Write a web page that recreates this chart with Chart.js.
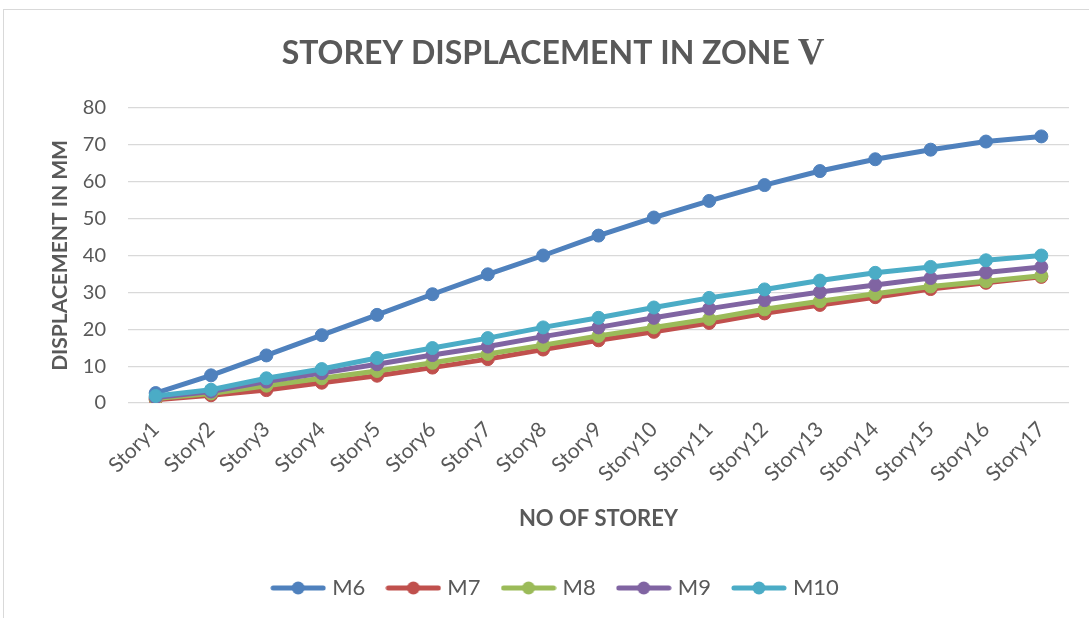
<!DOCTYPE html>
<html>
<head>
<meta charset="utf-8">
<script src="https://cdn.jsdelivr.net/npm/chart.js@4.4.0/dist/chart.umd.min.js"></script>
<style>
  html, body { margin: 0; padding: 0; width: 1089px; height: 618px; overflow: hidden; background: #fff; }
  #frame { position: absolute; left: 3px; top: 9px; width: 1200px; height: 700px; border-left: 1px solid #d9d9d9; border-top: 1px solid #d9d9d9; }
  #wrap { position: absolute; left: 0; top: 0; width: 1110px; height: 609px; }
</style>
</head>
<body>
<div id="frame"></div>
<div id="wrap"><canvas id="chart" width="1110" height="609"></canvas></div>
<script>
const stories = ['Story1', 'Story2', 'Story3', 'Story4', 'Story5', 'Story6', 'Story7', 'Story8', 'Story9',
    'Story10', 'Story11', 'Story12', 'Story13', 'Story14', 'Story15', 'Story16', 'Story17'];
const seriesNames = ['M6', 'M7', 'M8', 'M9', 'M10'];
const m6 = [2.7, 7.5, 12.9, 18.4, 23.9, 29.5, 34.9, 40.0, 45.4, 50.3, 54.8, 59.1, 62.9, 66.1, 68.7, 70.9, 72.3];
const m7 = [0.9, 2.1, 3.5, 5.5, 7.4, 9.6, 11.9, 14.5, 17.0, 19.3, 21.7, 24.3, 26.6, 28.7, 30.9, 32.6, 34.2];
const m8 = [1.2, 2.6, 4.7, 6.7, 8.7, 10.9, 13.3, 15.7, 18.2, 20.5, 22.8, 25.4, 27.6, 29.6, 31.6, 33.0, 34.5];
const m9 = [1.5, 3.1, 5.8, 8.1, 10.5, 13.0, 15.3, 18.0, 20.5, 23.1, 25.6, 27.9, 30.1, 32.0, 33.9, 35.4, 36.9];
const m10 = [1.9, 3.6, 6.7, 9.2, 12.2, 14.9, 17.6, 20.5, 23.1, 25.9, 28.5, 30.8, 33.2, 35.3, 36.9, 38.7, 40.0];
const yTicks = [0, 10, 20, 30, 40, 50, 60, 70, 80];
const colors = ['#4f81bd', '#c0504d', '#9bbb59', '#8064a2', '#4bacc6'];

const textGray = '#595959';
const fontName = 'Lato';

// legend marker: short line with a dot in the middle, like Excel
function legendMarker(color) {
    let c = document.createElement('canvas');
    c.width = 56;
    c.height = 16;
    let g = c.getContext('2d');
    g.strokeStyle = color;
    g.lineWidth = 5;
    g.lineCap = 'round';
    g.beginPath();
    g.moveTo(3, 8);
    g.lineTo(53, 8);
    g.stroke();
    g.fillStyle = color;
    g.beginPath();
    g.arc(28, 8, 6.5, 0, Math.PI * 2);
    g.fill();
    return c;
}
const markers = colors.map(legendMarker);

// title with the roman "V" in a serif face
const titlePlugin = {
    id: 'mixedTitle',
    afterDraw(chart) {
        let ctx = chart.ctx;
        let part1 = 'STOREY DISPLACEMENT IN ZONE ';
        let part2 = 'V';
        let f1 = 'bold 32px ' + fontName;
        let f2 = 'bold 37px "Liberation Serif"';
        ctx.save();
        ctx.fillStyle = textGray;
        ctx.textBaseline = 'alphabetic';
        ctx.font = f1;
        let w1 = ctx.measureText(part1).width;
        ctx.font = f2;
        let w2 = ctx.measureText(part2).width;
        let x = 553 - (w1 + w2) / 2;
        ctx.font = f1;
        ctx.fillText(part1, x, 64);
        ctx.font = f2;
        ctx.fillText(part2, x + w1, 64);
        ctx.restore();
    }
};

const datasets = [m6, m7, m8, m9, m10].map(function(vals, i) {
    return {
        label: seriesNames[i],
        data: vals,
        borderColor: colors[i],
        backgroundColor: colors[i],
        pointBackgroundColor: colors[i],
        pointBorderColor: colors[i],
        borderWidth: 5,
        pointRadius: 6.5,
        pointHoverRadius: 6.5,
        pointBorderWidth: 1,
        tension: 0,
        order: 5 - i,
        pointStyle: 'circle'
    };
});

let ctx = document.getElementById('chart').getContext('2d');
let lineChart = new Chart(ctx, {
    type: 'line',
    data: {
        labels: stories,
        datasets: datasets
    },
    options: {
        responsive: false,
        maintainAspectRatio: false,
        animation: false,
        layout: {
            padding: { left: 45, right: 41, top: 108, bottom: 0 }
        },
        plugins: {
            title: { display: false },
            tooltip: { enabled: false },
            legend: {
                position: 'bottom',
                labels: {
                    color: textGray,
                    font: { family: fontName, size: 22 },
                    usePointStyle: true,
                    pointStyleWidth: 46,
                    boxHeight: 16,
                    padding: 25,
                    sort: function(a, b) { return a.datasetIndex - b.datasetIndex; },
                    generateLabels: function(chart) {
                        return chart.data.datasets.map(function(ds, i) {
                            return {
                                text: ds.label,
                                fillStyle: colors[i],
                                strokeStyle: colors[i],
                                lineWidth: 0,
                                pointStyle: markers[i],
                                fontColor: textGray,
                                hidden: false,
                                datasetIndex: i
                            };
                        });
                    }
                }
            }
        },
        scales: {
            x: {
                offset: true,
                afterFit: function(axis) { axis.height = 149; },
                grid: { display: false, drawTicks: false },
                border: { display: false },
                ticks: {
                    color: textGray,
                    font: { family: fontName, size: 21 },
                    minRotation: 45,
                    maxRotation: 45,
                    padding: 14,
                    autoSkip: false
                },
                title: {
                    display: true,
                    text: 'NO OF STOREY',
                    color: textGray,
                    font: { family: fontName, size: 22, weight: 'bold' },
                    padding: { top: 20, bottom: 20 }
                }
            },
            y: {
                min: 0,
                max: 80,
                afterFit: function(axis) { axis.width = 83; },
                afterBuildTicks: function(axis) {
                    axis.ticks = yTicks.map(function(v) { return { value: v }; });
                },
                grid: { color: '#d9d9d9', lineWidth: 1.2, drawTicks: false },
                border: { display: false },
                ticks: {
                    color: textGray,
                    font: { family: fontName, size: 20 },
                    padding: 22
                },
                title: {
                    display: true,
                    text: 'DISPLACEMENT IN MM',
                    color: textGray,
                    font: { family: fontName, size: 21, weight: 'bold' },
                    padding: { top: 3, bottom: 0 }
                }
            }
        }
    },
    plugins: [titlePlugin]
});
</script>
</body>
</html>
